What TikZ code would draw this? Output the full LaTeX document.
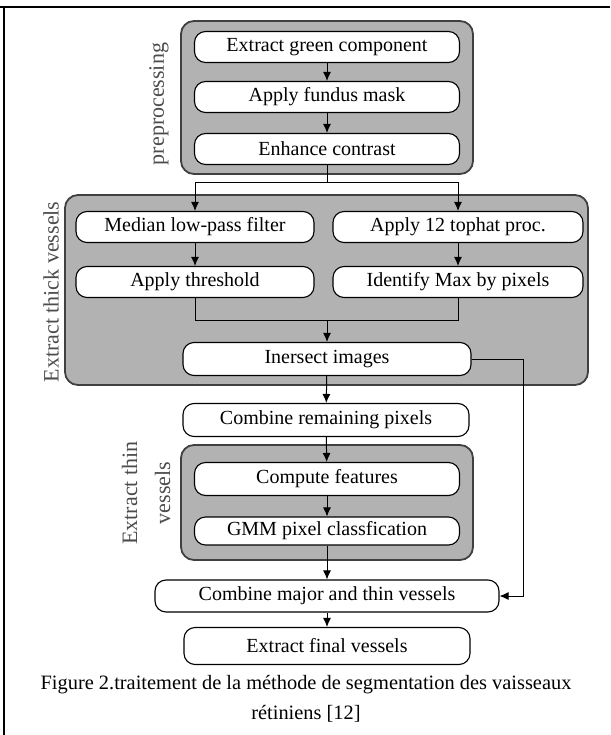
\documentclass[tikz,border=0pt]{standalone}
\usepackage{fontspec}
\setmainfont{Liberation Serif}
\usetikzlibrary{positioning, arrows.meta}

\tikzset{
  stepbox/.style={draw=black, fill=white, rounded corners=11pt, line width=1.1pt,
    minimum height=31pt, inner sep=0pt, font=\fontsize{20}{24}\selectfont},
  grp/.style={draw=black!75, fill=black!30, rounded corners=13pt, line width=1.8pt},
  grplabel/.style={rotate=90, text=black!70, font=\fontsize{22}{33}\selectfont, align=center},
  arr/.style={-{Latex[length=9pt,width=8pt]}, line width=1pt},
}

\begin{document}
\begin{tikzpicture}[x=1pt, y=-1pt]
        \useasboundingbox (0,0) rectangle (610,735);
        \draw[line width=2pt] (0,7) -- (610,7);
        \draw[line width=2pt] (4,7) -- (4,735);

        % groups
        \draw[grp] (181,21) rectangle (473,174);
        \draw[grp] (65,195) rectangle (588,385);
        \draw[grp] (181,445) rectangle (473,560);

        \node[grplabel] (lpre) at (159,104) {preprocessing};
        \node[grplabel] (lthick) at (51,292) {Extract thick vessels};
        \node[grplabel] (lthin) at (146,493) {Extract thin\\vessels};

        % steps
        \node[stepbox, minimum width=265pt] (green) at (327,47) {Extract green component};
        \node[stepbox, minimum width=265pt] (mask) at (327,97) {Apply fundus mask};
        \node[stepbox, minimum width=265pt] (enh) at (327,149) {Enhance contrast};
        \node[stepbox, minimum width=238pt] (median) at (195,227) {Median low-pass filter};
        \node[stepbox, minimum width=250pt] (tophat) at (458,227) {Apply 12 tophat proc.};
        \node[stepbox, minimum width=238pt] (thres) at (195,282) {Apply threshold};
        \node[stepbox, minimum width=250pt] (maxpix) at (458,282) {Identify Max by pixels};
        \node[stepbox, minimum width=288pt, minimum height=33pt] (inter) at (327,359) {Inersect images};
        \node[stepbox, minimum width=286pt, minimum height=33pt] (remain) at (326,420) {Combine remaining pixels};
        \node[stepbox, minimum width=265pt, minimum height=33pt] (feat) at (327,479) {Compute features};
        \node[stepbox, minimum width=265pt, minimum height=28pt] (gmm) at (327,531) {GMM pixel classfication};
        \node[stepbox, minimum width=344pt, minimum height=32pt] (major) at (327,596) {Combine major and thin vessels};
        \node[stepbox, minimum width=286pt, minimum height=37pt] (final) at (327,646) {Extract final vessels};

        \node[align=center, font=\fontsize{20.4}{30}\selectfont] (cap) at (306,699)
          {Figure 2.traitement de la méthode de segmentation des vaisseaux\\rétiniens [12]};

        % connectors
        \coordinate (split) at (327,183);
        \coordinate (join) at (327,320);
        \coordinate (bend) at (523,359);
        \draw[arr] (green) -- (mask);
        \draw[arr] (mask) -- (enh);
        \draw[line width=1pt] (enh) -- (split);
        \draw[arr] (split) -| (median);
        \draw[arr] (split) -| (tophat);
        \draw[arr] (median) -- (thres);
        \draw[arr] (tophat) -- (maxpix);
        \draw[line width=1pt] (thres) |- (join);
        \draw[line width=1pt] (maxpix) |- (join);
        \draw[arr] (join) -- (inter);
        \draw[arr] (inter) -- (remain);
        \draw[arr] (remain) -- (feat);
        \draw[arr] (feat) -- (gmm);
        \draw[arr] (gmm) -- (major);
        \draw[arr] (major) -- (final);
        \draw[line width=1pt] (inter) -- (bend);
        \draw[arr] (bend) |- (major);
\end{tikzpicture}
\end{document}
